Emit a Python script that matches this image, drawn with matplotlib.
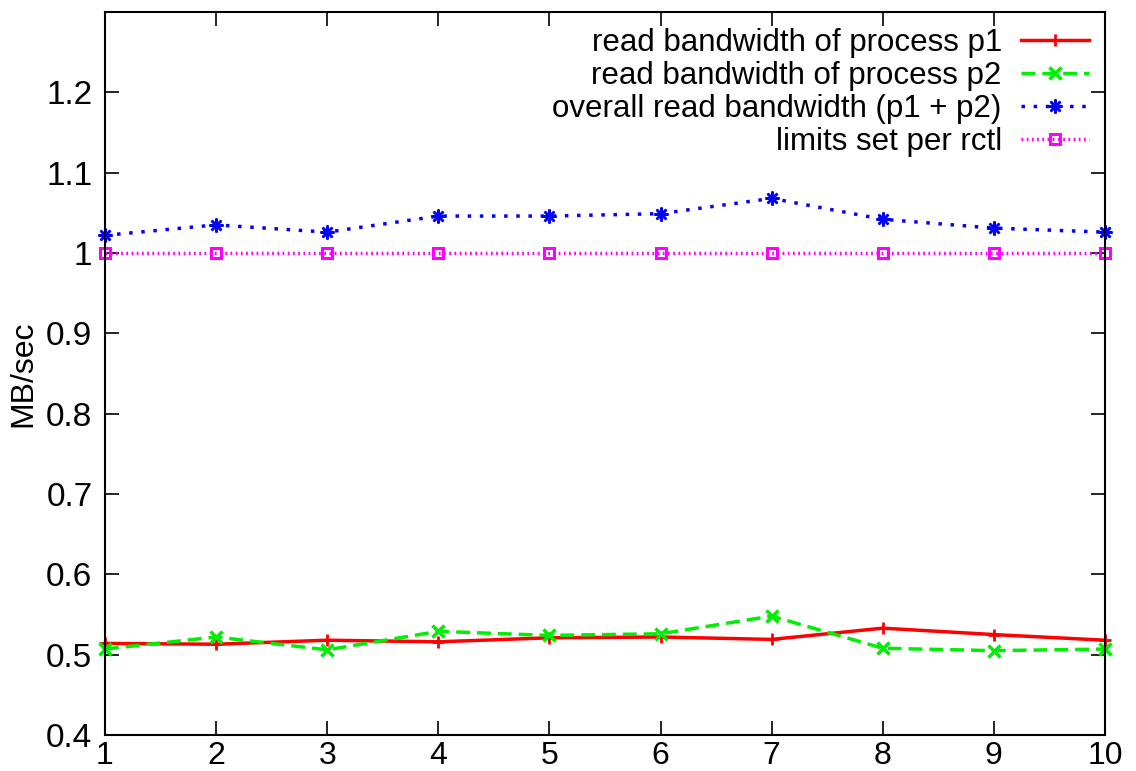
import matplotlib
matplotlib.use('Agg')
import matplotlib.pyplot as plt
from matplotlib.ticker import FuncFormatter

plt.rcParams['font.family'] = ['Liberation Sans', 'DejaVu Sans']

runs = [1, 2, 3, 4, 5, 6, 7, 8, 9, 10]
p1_bw = [0.514, 0.513, 0.518, 0.516, 0.521, 0.522, 0.519, 0.533, 0.525, 0.518]
p2_bw = [0.507, 0.522, 0.506, 0.529, 0.524, 0.526, 0.548, 0.508, 0.505, 0.507]
overall_bw = [1.022, 1.035, 1.026, 1.046, 1.046, 1.049, 1.068, 1.042, 1.031, 1.026]
limits = [1.0, 1.0, 1.0, 1.0, 1.0, 1.0, 1.0, 1.0, 1.0, 1.0]

fig = plt.figure(figsize=(11.36, 7.71), dpi=100)
ax = fig.add_axes([0.0924, 0.0467, 0.8803, 0.9377])

ax.plot(runs, p1_bw, color='#ff0000', lw=2.5, marker='+', ms=8, mew=2, clip_on=False,
        label='read bandwidth of process p1')
ax.plot(runs, p2_bw, color='#00ee00', lw=2.5, ls=(0, (4, 2)), marker='x', ms=8, mew=2.5, clip_on=False,
        label='read bandwidth of process p2')
ax.plot(runs, overall_bw, color='#0000ff', lw=2.5, ls=(0, (1, 2.5)), marker=(8, 2, 0), ms=10, mew=1.8,
        clip_on=False, label='overall read bandwidth (p1 + p2)')
ax.plot(runs, limits, color='#ff00ff', lw=2.5, ls=(0, (0.5, 1)), marker='s', ms=7.5, mew=2.2,
        fillstyle='none', clip_on=False, label='limits set per rctl')

ax.set_xlim(1, 10)
ax.set_ylim(0.4, 1.3)
ax.set_xticks(runs)
ax.set_yticks([0.4, 0.5, 0.6, 0.7, 0.8, 0.9, 1.0, 1.1, 1.2])
ax.yaxis.set_major_formatter(FuncFormatter(lambda v, p: '%g' % round(v, 2)))
ax.tick_params(direction='in', length=10, width=1.2, labelsize=24, top=True, right=True, pad=9)
ax.tick_params(axis='x', pad=4, labelsize=23)
for s in ax.spines.values():
    s.set_linewidth(1.5)

ax.set_ylabel('MB/sec', fontsize=23, labelpad=6)

ax.legend(loc='upper right', frameon=False, markerfirst=False, fontsize=22.5,
          handlelength=2.2, handletextpad=0.6, labelspacing=0.1, borderaxespad=0.3,
          borderpad=0.2)

fig.savefig('out.png', dpi=100)
